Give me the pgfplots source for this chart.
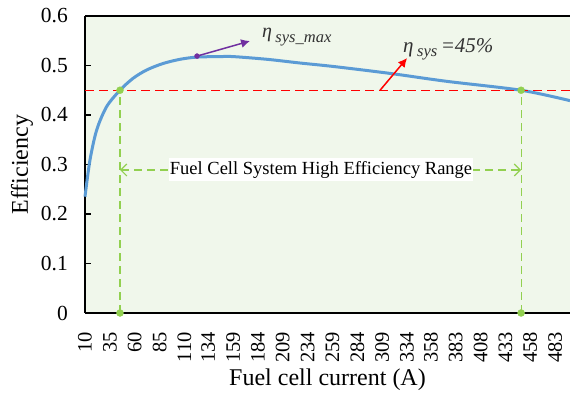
\documentclass[border=0pt]{standalone}
\usepackage{fontspec}
\setmainfont{Liberation Serif}
\usepackage{pgfplots}
\pgfplotsset{compat=1.18}
\usetikzlibrary{arrows.meta}
\definecolor{curveblue}{RGB}{91,155,213}
\definecolor{panelgreen}{RGB}{240,247,235}
\definecolor{rangegreen}{RGB}{146,208,80}
\definecolor{maxpurple}{RGB}{112,48,160}
\definecolor{notegray}{RGB}{50,50,50}

\begin{document}
\begin{tikzpicture}
\useasboundingbox (0,0) rectangle (570pt,398pt);
\begin{axis}[
  at={(85pt,85pt)}, anchor=south west,
  scale only axis, width=485pt, height=297pt,
  xmin=10, xmax=498, ymin=0, ymax=0.6,
  clip=false,
  axis x line*=bottom, axis y line*=left,
  axis line style={-, line width=1.6pt, black},
  axis background/.style={fill=panelgreen},
  xtick={10,35,60,85,110,134,159,184,209,234,259,284,309,334,358,383,408,433,458,483},
  xticklabels={10,35,60,85,110,134,159,184,209,234,259,284,309,334,358,383,408,433,458,483},
  xticklabel style={rotate=90, anchor=east, inner sep=0pt, font=\fontsize{20.5}{22}\selectfont},
  xticklabel shift=19pt,
  xtick style={draw=none},
  ytick={0,0.1,0.2,0.3,0.4,0.5,0.6},
  yticklabels={0,0.1,0.2,0.3,0.4,0.5,0.6},
  yticklabel style={anchor=east, inner sep=0pt, font=\fontsize{21.5}{23}\selectfont},
  yticklabel shift=17pt,
  tick align=inside, major tick length=6pt,
  ytick style={line width=1.2pt, black},
  xlabel={Fuel cell current (A)},
  ylabel={Efficiency},
  xlabel style={at={(axis description cs:0.5,-0.2256)}, anchor=center, font=\fontsize{24}{26}\selectfont},
  ylabel style={at={(axis description cs:-0.13,0.5)}, anchor=center, rotate=0, font=\fontsize{24}{26}\selectfont},
]
% system efficiency versus stack current
\addplot[curveblue, line width=3pt, smooth, tension=0.5] coordinates {
  (10,0.235) (15,0.309) (21.8,0.37) (31.8,0.417) (45.2,0.45) (58.3,0.474)
  (72.1,0.491) (88.5,0.504) (105.6,0.5125) (122.7,0.517) (145.9,0.518)
  (159,0.518) (193.2,0.5125) (226.4,0.505) (260,0.498) (317,0.484)
  (374,0.468) (448.8,0.45) (498,0.429)
};
% 45% threshold
\addplot[red, line width=1.3pt, dash pattern=on 9pt off 5pt] coordinates {(10,0.45) (498,0.45)};
% bounds of the high-efficiency range
\addplot[rangegreen, line width=1.2pt, dash pattern=on 8pt off 5pt] coordinates {(45.2,0) (45.2,0.45)};
\addplot[rangegreen, line width=1.2pt, dash pattern=on 8pt off 5pt] coordinates {(448.8,0) (448.8,0.45)};
\addplot[rangegreen, line width=1.2pt, dash pattern=on 8pt off 5pt,
  {Straight Barb[length=6pt,width=12pt]}-{Straight Barb[length=6pt,width=12pt]}]
  coordinates {(45.2,0.289) (448.8,0.289)};
\node[fill=white, inner xsep=1pt, inner ysep=3pt, font=\fontsize{18.5}{20}\selectfont]
  at (axis cs:247.5,0.289) {Fuel Cell System High Efficiency Range};
\addplot[only marks, mark=*, mark size=3.5pt, rangegreen]
  coordinates {(45.2,0) (45.2,0.45) (448.8,0.45) (448.8,0)};
% maximum efficiency pointer
\addplot[maxpurple, line width=1.5pt, -{Latex[length=9pt,width=9pt]}]
  coordinates {(122.7,0.519) (176.1,0.5495)};
\addplot[only marks, mark=*, mark size=2.5pt, maxpurple] coordinates {(122.7,0.519)};
\node[anchor=base west, inner sep=0pt, text=notegray] at (axis cs:188.1,0.5566)
  {\fontsize{20}{22}\selectfont\textit{η}\,\raisebox{-5pt}{\fontsize{16.5}{18}\selectfont\textit{sys\_max}}};
% threshold pointer
\addplot[red, line width=1.5pt, -{Latex[length=9pt,width=9pt]}]
  coordinates {(306.9,0.45) (334.1,0.515)};
\node[anchor=base west, inner sep=0pt, text=notegray] at (axis cs:330,0.527)
  {\fontsize{21}{23}\selectfont\textit{η}\,\raisebox{-4pt}{\fontsize{16.5}{18}\selectfont\textit{sys}}\,\textit{=45\%}};
\draw[line width=1.2pt] (rel axis cs:0,1) -- (rel axis cs:1,1);
\end{axis}
\end{tikzpicture}
\end{document}
